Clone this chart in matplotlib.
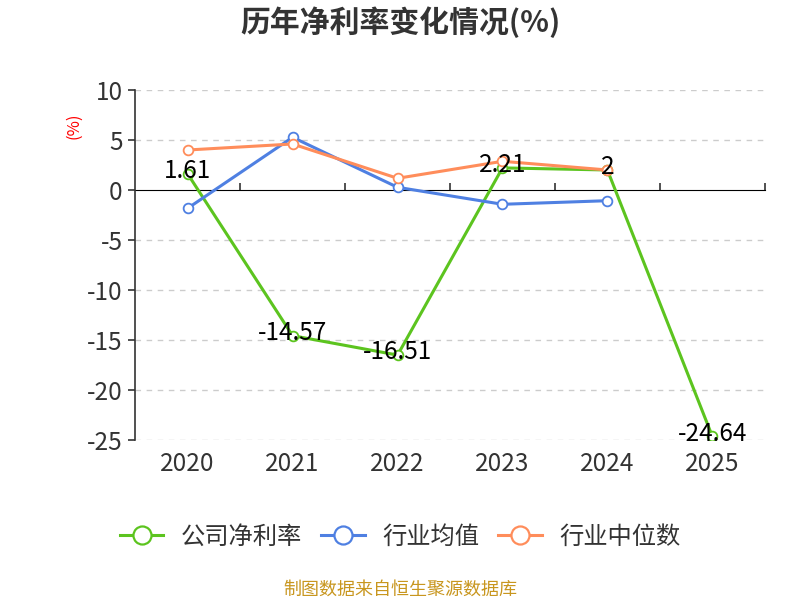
import matplotlib
matplotlib.use('Agg')
import matplotlib.pyplot as plt
from matplotlib.lines import Line2D

plt.rcParams['font.family'] = ['Noto Sans CJK SC', 'DejaVu Sans']
plt.rcParams['axes.unicode_minus'] = False

# 数据
years = ['2020', '2021', '2022', '2023', '2024', '2025']
company = [1.61, -14.57, -16.51, 2.21, 2, -24.64]
industry_avg = [-1.83, 5.27, 0.27, -1.43, -1.07]
industry_median = [4.0, 4.6, 1.17, 2.87, 2.0]
names = ['公司净利率', '行业均值', '行业中位数']

green = '#5cc41f'
blue = '#4f80e2'
orange = '#ff8d5b'

fig = plt.figure(figsize=(8, 6), dpi=100)
ax = fig.add_axes([0.169, 0.2667, 0.787, 0.5833])

x = list(range(len(years)))
mk = dict(marker='o', markersize=7, markerfacecolor='white', markeredgewidth=1.3)
ax.plot(x[:len(company)], company, color=green, lw=2.2, markeredgecolor=green, zorder=3, **mk)
ax.plot(x[:len(industry_avg)], industry_avg, color=blue, lw=2.2, markeredgecolor=blue, zorder=4, **mk)
ax.plot(x[:len(industry_median)], industry_median, color=orange, lw=2.2, markeredgecolor=orange, zorder=5, **mk)

for i, v in enumerate(company):
    ax.annotate(f'{v:g}', (i, v), xytext=(0, 2), textcoords='offset points',
                ha='center', va='center', fontsize=17.5, color='black', zorder=6)

ax.set_xlim(-0.5, 5.5)
ax.set_ylim(-25, 10)
ax.set_yticks(range(-25, 11, 5))
ax.set_xticks(x)
ax.set_xticklabels(years)
ax.tick_params(axis='x', length=0, labelsize=17.5, colors='#333333', pad=8)
ax.tick_params(axis='y', length=5, width=1.2, labelsize=17.5, colors='#333333', pad=4)
for s in ['top', 'right', 'bottom']:
    ax.spines[s].set_visible(False)
ax.spines['left'].set_color('#333333')
ax.spines['left'].set_linewidth(1.2)

# 网格
for t in range(-25, 11, 5):
    if t != 0:
        ax.axhline(t, color='#cccccc', lw=1, ls=(0, (4, 4)), zorder=1)

# 零线坐标轴
sec = ax.secondary_xaxis(25 / 35)
sec.set_xticks([i + 0.5 for i in x])
sec.set_xticklabels([])
sec.tick_params(axis='x', direction='out', length=5, width=1.2, colors='#333333')
sec.spines['bottom'].set_color('#333333')
sec.spines['bottom'].set_linewidth(1.2)

ax.text(-0.097, 0.897, '(%)', transform=ax.transAxes, rotation=90, color='red',
        fontsize=12, ha='center', va='center')

fig.text(0.5, 0.963, '历年净利率变化情况(%)', ha='center', va='center',
         fontsize=21.5, fontweight='bold', color='#333333')

handles = [Line2D([], [], color=c, lw=2.2, marker='o', markersize=13,
                  markerfacecolor='white', markeredgecolor=c, markeredgewidth=1.6)
           for c in (green, blue, orange)]
leg = fig.legend(handles, names, loc='center', bbox_to_anchor=(0.5, 0.105), ncol=3,
                 frameon=False, fontsize=17.5, handlelength=1.8, columnspacing=0.8,
                 handletextpad=0.7)
for t in leg.get_texts():
    t.set_color('#333333')

fig.text(0.5, 0.018, '制图数据来自恒生聚源数据库', ha='center', va='center',
         fontsize=13, color='#c8961e')

fig.savefig('out.png', dpi=100)
